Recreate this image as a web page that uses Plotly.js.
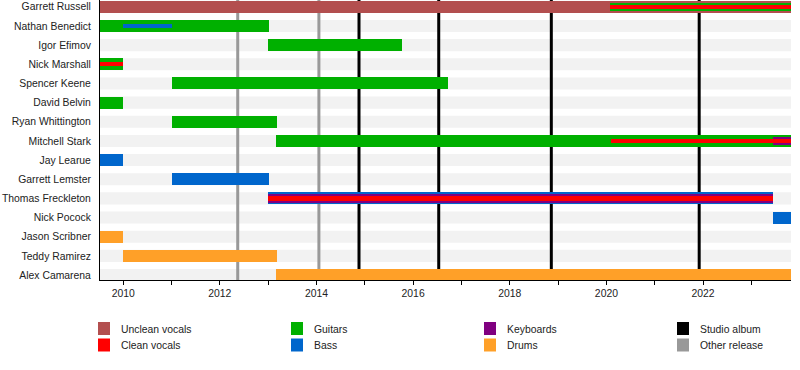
<!DOCTYPE html>
<html>
<head>
<meta charset="utf-8">
<script src="https://cdn.plot.ly/plotly-3.0.1.min.js"></script>
<style>html,body{margin:0;padding:0;background:#fff;}#chart{width:800px;height:370px;}</style>
</head>
<body>
<div id="chart"></div>
<script>
// ---- data ----
const members = ["Garrett Russell","Nathan Benedict","Igor Efimov","Nick Marshall","Spencer Keene","David Belvin","Ryan Whittington","Mitchell Stark","Jay Learue","Garrett Lemster","Thomas Freckleton","Nick Pocock","Jason Scribner","Teddy Ramirez","Alex Camarena"];
const periodStart = 2009.52;
const periodEnd = 2023.82;

// main bars: [member, from, to]
const uncleanVocals = [["Garrett Russell", 2009.52, 2023.82]];
const guitars = [
  ["Nathan Benedict", 2009.52, 2013.01],
  ["Igor Efimov", 2013.0, 2015.77],
  ["Nick Marshall", 2009.52, 2010.0],
  ["Spencer Keene", 2011.0, 2016.72],
  ["David Belvin", 2009.52, 2010.0],
  ["Ryan Whittington", 2011.0, 2013.18],
  ["Mitchell Stark", 2013.16, 2023.82]
];
const bass = [
  ["Jay Learue", 2009.52, 2010.0],
  ["Garrett Lemster", 2011.0, 2013.01],
  ["Thomas Freckleton", 2013.0, 2023.45],
  ["Nick Pocock", 2023.45, 2023.82]
];
const drums = [
  ["Jason Scribner", 2009.52, 2010.0],
  ["Teddy Ramirez", 2010.0, 2013.18],
  ["Alex Camarena", 2013.16, 2023.82]
];
// secondary roles (narrower bars)
const guitarsSecondary = [["Garrett Russell", 2020.08, 2023.82]];
const keyboardsSecondary = [
  ["Thomas Freckleton", 2013.0, 2023.45],
  ["Mitchell Stark", 2023.45, 2023.82]
];
// third roles (thin bars)
const cleanVocalsThin = [
  ["Garrett Russell", 2020.08, 2023.82],
  ["Nick Marshall", 2009.52, 2010.0],
  ["Mitchell Stark", 2020.1, 2023.82],
  ["Thomas Freckleton", 2013.0, 2023.45]
];
const bassThin = [["Nathan Benedict", 2010.0, 2011.0]];

const studioAlbums = [2014.88, 2016.53, 2018.86, 2021.92];
const otherReleases = [2012.37, 2014.05];

const tickYears = [2010, 2012, 2014, 2016, 2018, 2020, 2022];

const legendLabels = [["Unclean vocals","Clean vocals"],["Guitars","Bass"],["Keyboards","Drums"],["Studio album","Other release"]];

// ---- styles ----
const C = {
  unclean: "#b34f4f", clean: "#ff0000", guitars: "#00b000", bass: "#0066cc",
  keyboards: "#800080", drums: "#ffa028", studio: "#000000", other: "#999999"
};
const legendColors = [[C.unclean, C.clean],[C.guitars, C.bass],[C.keyboards, C.drums],[C.studio, C.other]];
const FONT = "Liberation Sans, Arial, sans-serif";
const FS = 10.4;

const W_MAIN = 0.63, W_SEC = 0.44, W_THIN = 0.23;
const Y_RANGE = [14.26, -0.355];

function bars(rows, color, w) {
  return {
    type: "bar", orientation: "h",
    y: rows.map(r => members.indexOf(r[0])),
    base: rows.map(r => r[1]),
    x: rows.map(r => r[2] - r[1]),
    width: w,
    marker: {color: color, line: {width: 0}},
    hoverinfo: "skip", showlegend: false
  };
}

const traces = [
  bars(uncleanVocals, C.unclean, W_MAIN),
  bars(guitars, C.guitars, W_MAIN),
  bars(bass, C.bass, W_MAIN),
  bars(drums, C.drums, W_MAIN),
  bars(guitarsSecondary, C.guitars, W_SEC),
  bars(keyboardsSecondary, C.keyboards, W_SEC),
  bars(cleanVocalsThin, C.clean, W_THIN),
  bars(bassThin, C.bass, W_THIN)
];

const shapes = [];
members.forEach((m, i) => {
  shapes.push({type: "rect", layer: "below", xref: "x", yref: "y",
    x0: periodStart, x1: periodEnd, y0: i - W_MAIN/2, y1: i + W_MAIN/2,
    fillcolor: "#f2f2f2", line: {width: 0}});
});
otherReleases.forEach(d => shapes.push({type: "line", layer: "below", xref: "x", yref: "y",
  x0: d, x1: d, y0: Y_RANGE[0], y1: Y_RANGE[1], line: {color: C.other, width: 3}}));
studioAlbums.forEach(d => shapes.push({type: "line", layer: "below", xref: "x", yref: "y",
  x0: d, x1: d, y0: Y_RANGE[0], y1: Y_RANGE[1], line: {color: C.studio, width: 3}}));

// legend (paper coordinates from pixel layout)
const L = 100, R = 791, T = 0, B = 280;
const px = x => (x - L) / (R - L);
const py = y => (B - y) / (B - T);
const annotations = [];
const colX = [98, 291, 484, 677];
const rowY = [322, 338.5];
legendLabels.forEach((col, ci) => {
  col.forEach((lab, ri) => {
    shapes.push({type: "rect", xref: "paper", yref: "paper",
      x0: px(colX[ci]), x1: px(colX[ci] + 12), y0: py(rowY[ri]), y1: py(rowY[ri] + 13),
      fillcolor: legendColors[ci][ri], line: {width: 0}});
    annotations.push({xref: "paper", yref: "paper", x: px(colX[ci] + 21), y: py(rowY[ri] + 7),
      xanchor: "left", yanchor: "middle", showarrow: false, text: lab,
      font: {family: FONT, size: FS, color: "#222"}});
  });
});

const layout = {
  width: 800, height: 370,
  margin: {l: L, r: 800 - R, t: T, b: 370 - B},
  paper_bgcolor: "#fff", plot_bgcolor: "#fff",
  barmode: "overlay", bargap: 0,
  showlegend: false,
  font: {family: FONT, size: FS, color: "#222"},
  xaxis: {
    range: [periodStart, periodEnd], tickvals: tickYears, ticktext: tickYears.map(String),
    showgrid: false, zeroline: false, showline: true, linecolor: "#000", linewidth: 1,
    ticks: "outside", ticklen: 4, tickcolor: "#000", tickwidth: 1,
    minor: {dtick: 1, tick0: 2010, ticks: "outside", ticklen: 4, tickcolor: "#000", tickwidth: 1, showgrid: false},
    tickfont: {family: FONT, size: FS, color: "#222"}, fixedrange: true
  },
  yaxis: {
    range: Y_RANGE, tickvals: members.map((m, i) => i), ticktext: members,
    showgrid: false, zeroline: false, showline: true, linecolor: "#000", linewidth: 1,
    ticks: "", ticklabelstandoff: 6,
    tickfont: {family: FONT, size: FS, color: "#222"}, fixedrange: true
  },
  shapes: shapes,
  annotations: annotations
};

Plotly.newPlot("chart", traces, layout, {staticPlot: true, displayModeBar: false});
</script>
</body>
</html>
